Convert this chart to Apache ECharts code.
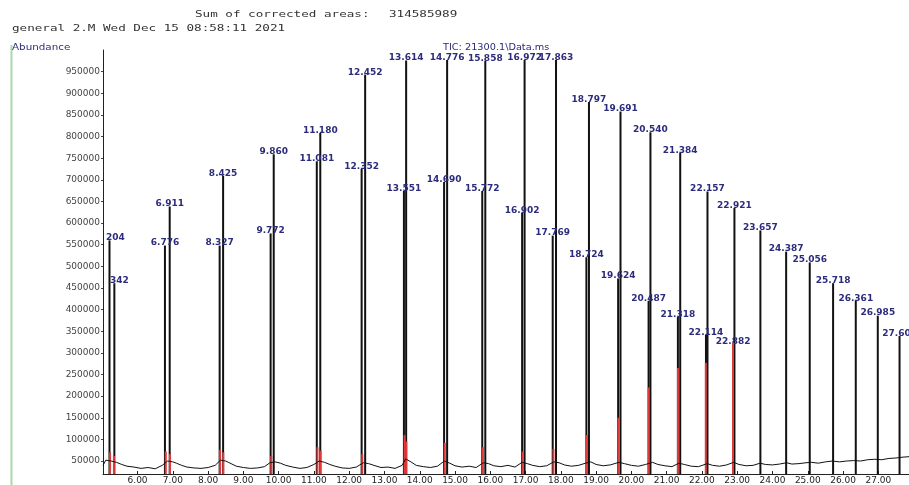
<!DOCTYPE html>
<html>
<head>
<meta charset="utf-8">
<script src="https://cdn.jsdelivr.net/npm/echarts@6/dist/echarts.min.js"></script>
<style>html,body{margin:0;padding:0;background:#fff}#c{width:909px;height:485px}</style>
</head>
<body>
<div id="c"></div>
<script>
// ---- data ----
const xTickValues = [6,7,8,9,10,11,12,13,14,15,16,17,18,19,20,21,22,23,24,25,26,27];
const yTickValues = [50000,100000,150000,200000,250000,300000,350000,400000,450000,500000,550000,600000,650000,700000,750000,800000,850000,900000,950000];

const peakTimes = [5.204,5.342,6.776,6.911,8.327,8.425,9.772,9.860,11.081,11.180,12.352,12.452,13.551,13.614,14.690,14.776,15.772,15.858,16.902,16.972,17.769,17.863,18.724,18.797,19.624,19.691,20.487,20.540,21.318,21.384,22.114,22.157,22.882,22.921,23.657,24.387,25.056,25.718,26.361,26.985,27.602];
const peakHeights = [560000,461000,548000,638000,548000,709000,576000,759000,743000,808000,725000,943000,674000,976000,695000,977000,674000,975000,624000,977000,571000,977000,521000,880000,472000,858000,420000,810000,383000,762000,342000,673000,319000,635000,583000,534000,509000,461000,420000,386000,339000];
const peakLabels = ["204","342","6.776","6.911","8.327","8.425","9.772","9.860","11.081","11.180","12.352","12.452","13.551","13.614","14.690","14.776","15.772","15.858","16.902","16.972","17.769","17.863","18.724","18.797","19.624","19.691","20.487","20.540","21.318","21.384","22.114","22.157","22.882","22.921","23.657","24.387","25.056","25.718","26.361","26.985","27.602"];

const redTimes = [5.22,5.33,6.80,6.92,8.34,8.43,9.79,11.10,11.19,12.37,13.57,13.62,14.71,15.79,16.92,17.79,18.74,19.63,20.49,21.32,22.11,22.88];
const redHeights = [70000,62000,72000,66000,76000,70000,62000,82000,74000,66000,110000,95000,92000,82000,72000,78000,110000,150000,220000,265000,277000,323000];

const baseTimes = [5.02,5.10,5.25,5.40,5.55,5.70,5.90,6.10,6.30,6.50,6.70,6.85,7.00,7.10,7.25,7.40,7.60,7.80,8.00,8.20,8.35,8.50,8.65,8.80,9.00,9.20,9.40,9.60,9.75,9.90,10.05,10.20,10.40,10.60,10.80,11.00,11.15,11.30,11.45,11.60,11.80,12.00,12.20,12.40,12.55,12.70,12.90,13.10,13.30,13.50,13.60,13.75,13.90,14.10,14.30,14.50,14.70,14.85,15.00,15.20,15.40,15.60,15.80,15.95,16.10,16.30,16.50,16.70,16.90,17.05,17.20,17.40,17.60,17.80,17.95,18.10,18.30,18.50,18.70,18.85,19.00,19.20,19.40,19.65,19.80,20.00,20.20,20.40,20.60,20.75,20.95,21.15,21.35,21.50,21.70,21.90,22.15,22.30,22.50,22.70,22.90,23.05,23.25,23.45,23.65,23.80,24.00,24.20,24.40,24.55,24.75,24.95,25.10,25.30,25.50,25.70,25.90,26.10,26.30,26.50,26.70,26.90,27.10,27.30,27.50,27.70,27.87];
const baseValues = [40000,52000,50000,47000,42000,38000,36000,33000,35000,32000,40000,50000,48000,45000,40000,36000,34000,33000,35000,40000,52000,50000,44000,38000,35000,33000,34000,37000,46000,48000,45000,40000,36000,33000,35000,42000,50000,47000,42000,38000,34000,33000,36000,46000,44000,40000,35000,36000,33000,40000,55000,48000,40000,37000,35000,38000,50000,45000,39000,36000,38000,35000,46000,44000,39000,37000,40000,36000,47000,44000,40000,37000,39000,48000,46000,41000,38000,40000,45000,48000,42000,39000,41000,47000,44000,40000,38000,42000,47000,42000,39000,37000,45000,42000,38000,37000,44000,40000,38000,41000,47000,42000,39000,40000,45000,42000,41000,43000,46000,43000,44000,46000,47000,45000,48000,50000,48000,50000,51000,50000,53000,54000,53000,56000,57000,59000,60000];

const headerLine1a = "Sum of corrected areas:";
const headerLine1b = "314585989";
const headerLine2 = "general 2.M Wed Dec 15 08:58:11 2021";
const yTitle = "Abundance";
const ticTitle = "TIC: 21300.1\\Data.ms";

// ---- build ----
const labelOffsets = { "204": [6, 0], "342": [5, 0] };
const peakData = peakTimes.map((t, i) => {
  const item = { value: [t, peakHeights[i]], name: peakLabels[i] };
  if (labelOffsets[peakLabels[i]]) item.label = { offset: labelOffsets[peakLabels[i]] };
  return item;
});
const redData = redTimes.map((t, i) => [t, redHeights[i]]);
const baseData = baseTimes.map((t, i) => [t, baseValues[i]]);

const chart = echarts.init(document.getElementById('c'), null, { renderer: 'canvas' });
chart.setOption({
  animation: false,
  backgroundColor: '#ffffff',
  grid: { left: 103, right: 0, top: 50, bottom: 8 },
  xAxis: {
    type: 'value', min: 5.02, max: 27.87,
    axisLine: { show: true, onZero: false, lineStyle: { color: '#222', width: 1 } },
    axisTick: { show: true, inside: true, length: 3, customValues: xTickValues, lineStyle: { color: '#222' } },
    axisLabel: { customValues: xTickValues, formatter: v => v.toFixed(2), fontSize: 9, fontFamily: 'DejaVu Sans', color: '#222', margin: 2 },
    splitLine: { show: false }
  },
  yAxis: {
    type: 'value', min: 20000, max: 1000000,
    axisLine: { show: true, onZero: false, lineStyle: { color: '#222', width: 1 } },
    axisTick: { show: true, length: 2, customValues: yTickValues, lineStyle: { color: '#444' } },
    axisLabel: { customValues: yTickValues, formatter: v => String(Math.round(v)), fontSize: 9, fontFamily: 'DejaVu Sans', color: '#444', margin: 3 },
    splitLine: { show: false }
  },
  series: [
    {
      type: 'bar', data: peakData, barWidth: 2, barGap: '-100%', z: 2,
      itemStyle: { color: '#111' },
      label: { show: true, position: 'top', distance: -2, formatter: '{b}', fontSize: 9, fontWeight: 'bold', fontFamily: 'DejaVu Sans', color: '#2c2c7c' }
    },
    {
      type: 'bar', data: redData, barWidth: 2, barGap: '-100%', z: 3,
      itemStyle: { color: '#e23a3a' }
    },
    {
      type: 'line', data: baseData, symbol: 'none', z: 4,
      lineStyle: { color: '#111', width: 1 }
    }
  ],
  graphic: [
    { type: 'line', shape: { x1: 11.5, y1: 45, x2: 11.5, y2: 485 }, style: { stroke: '#a9d9a9', lineWidth: 2 } },
    { type: 'text', x: 195, y: 15, scaleX: 1.4, style: { text: headerLine1a, font: '9px "DejaVu Sans Mono"', fill: '#333', textVerticalAlign: 'middle' } },
    { type: 'text', x: 389, y: 15, scaleX: 1.4, style: { text: headerLine1b, font: '9px "DejaVu Sans Mono"', fill: '#333', textVerticalAlign: 'middle' } },
    { type: 'text', x: 12, y: 29, scaleX: 1.4, style: { text: headerLine2, font: '9px "DejaVu Sans Mono"', fill: '#333', textVerticalAlign: 'middle' } },
    { type: 'text', x: 12, y: 48, scaleX: 1.15, style: { text: yTitle, font: '9px "DejaVu Sans"', fill: '#2c2c7c', textVerticalAlign: 'middle' } },
    { type: 'text', x: 443, y: 48, scaleX: 1.08, style: { text: ticTitle, font: '9px "DejaVu Sans"', fill: '#2c2c7c', textVerticalAlign: 'middle' } }
  ]
});
</script>
</body>
</html>
